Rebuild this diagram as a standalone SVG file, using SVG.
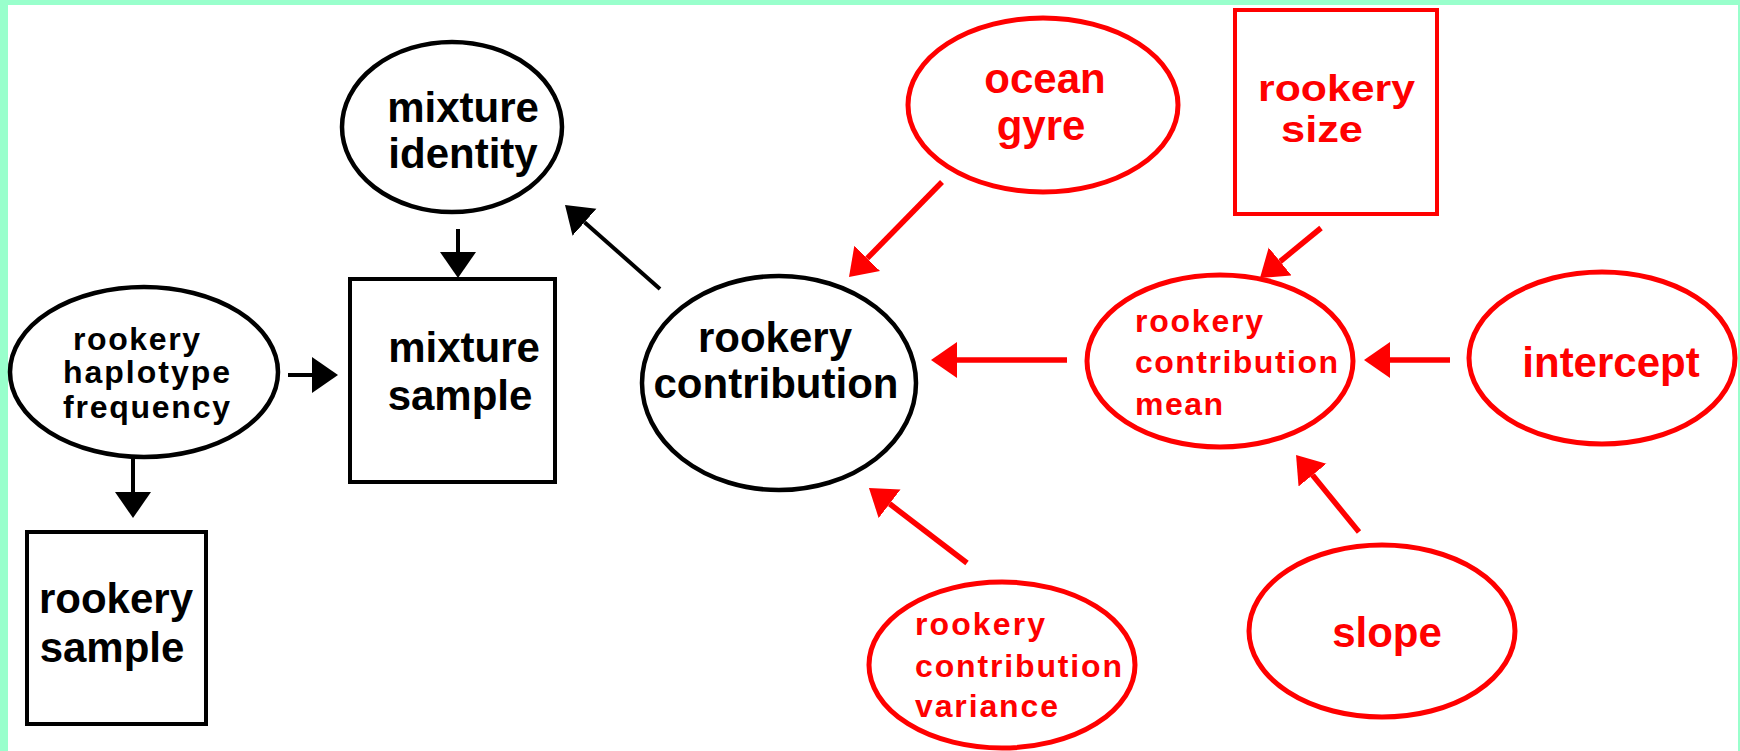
<svg xmlns="http://www.w3.org/2000/svg" width="1740" height="751" viewBox="0 0 1740 751">
<style>
.bk{fill:#fff;stroke:#000;stroke-width:4.5}
.rd{fill:#fff;stroke:#f00;stroke-width:5}
.bx{fill:#fff;stroke:#000;stroke-width:4}
.rbx{fill:#fff;stroke:#f00;stroke-width:4}
.tb{font-family:"Liberation Sans",Arial,sans-serif;font-weight:bold;font-size:42px;fill:#000;text-anchor:middle}
.tr{font-family:"Liberation Sans",Arial,sans-serif;font-weight:bold;font-size:42px;fill:#f00;text-anchor:middle}
.trs{font-family:"Liberation Sans",Arial,sans-serif;font-weight:bold;font-size:36px;fill:#f00}
.sb{font-family:"Liberation Sans",Arial,sans-serif;font-weight:bold;font-size:32px;fill:#000}
.sr{font-family:"Liberation Sans",Arial,sans-serif;font-weight:bold;font-size:32px;fill:#f00}
.lk{stroke:#000;stroke-width:4;fill:none}
.lr{stroke:#f00;stroke-width:5.5;fill:none}
</style>
<defs>
<marker id="ak" markerUnits="userSpaceOnUse" markerWidth="28" markerHeight="38" refX="0" refY="18" orient="auto"><path d="M0,0 L26,18 L0,36 Z" fill="#000"/></marker>
<marker id="ar" markerUnits="userSpaceOnUse" markerWidth="28" markerHeight="38" refX="0" refY="18" orient="auto"><path d="M0,0 L26,18 L0,36 Z" fill="#f00"/></marker>
</defs>
<rect x="0" y="0" width="1740" height="751" fill="#99ffcc"/>
<rect x="8" y="5" width="1730" height="746" fill="#fff"/>

<g id="connectors">
<line class="lk" x1="458" y1="229" x2="458" y2="252" marker-end="url(#ak)"/>
<line class="lk" x1="288" y1="375" x2="312" y2="375" marker-end="url(#ak)"/>
<line class="lk" x1="133" y1="458" x2="133" y2="492" marker-end="url(#ak)"/>
<line class="lk" x1="660" y1="289" x2="584.5" y2="222.2" marker-end="url(#ak)"/>
<line class="lr" x1="942" y1="182" x2="867.2" y2="258.4" marker-end="url(#ar)"/>
<line class="lr" x1="1067" y1="360" x2="957" y2="360" marker-end="url(#ar)"/>
<line class="lr" x1="1321" y1="228" x2="1280.1" y2="261.5" marker-end="url(#ar)"/>
<line class="lr" x1="1450" y1="360" x2="1390" y2="360" marker-end="url(#ar)"/>
<line class="lr" x1="1359" y1="532" x2="1312.5" y2="475.1" marker-end="url(#ar)"/>
<line class="lr" x1="967" y1="563" x2="889.6" y2="503.8" marker-end="url(#ar)"/>
</g>

<g id="mixture-identity">
<ellipse class="bk" cx="452" cy="127" rx="110" ry="85"/>
<text class="tb" x="463" y="122">mixture</text>
<text class="tb" x="463" y="168">identity</text>
</g>

<g id="mixture-sample">
<rect class="bx" x="350" y="279" width="205" height="203"/>
<text class="tb" x="464" y="362">mixture</text>
<text class="tb" x="460" y="410">sample</text>
</g>

<g id="rookery-haplotype-frequency">
<ellipse class="bk" cx="144" cy="372" rx="134" ry="85"/>
<text class="sb" x="73" y="350" textLength="127">rookery</text>
<text class="sb" x="63" y="383" textLength="167">haplotype</text>
<text class="sb" x="63" y="418" textLength="167">frequency</text>
</g>

<g id="rookery-sample">
<rect class="bx" x="27" y="532" width="179" height="192"/>
<text class="tb" x="116" y="613">rookery</text>
<text class="tb" x="112" y="662">sample</text>
</g>

<g id="rookery-contribution">
<ellipse class="bk" cx="779" cy="383" rx="137" ry="107"/>
<text class="tb" x="775" y="352">rookery</text>
<text class="tb" x="776" y="398">contribution</text>
</g>

<g id="ocean-gyre">
<ellipse class="rd" cx="1043" cy="105" rx="135" ry="87"/>
<text class="tr" x="1045" y="93">ocean</text>
<text class="tr" x="1041" y="140">gyre</text>
</g>

<g id="rookery-size">
<rect class="rbx" x="1235" y="10" width="202" height="204"/>
<text class="trs" x="1258" y="101" textLength="157" lengthAdjust="spacingAndGlyphs">rookery</text>
<text class="trs" x="1281" y="142" textLength="82" lengthAdjust="spacingAndGlyphs">size</text>
</g>

<g id="rookery-contribution-mean">
<ellipse class="rd" cx="1220" cy="361" rx="133" ry="86"/>
<text class="sr" x="1135" y="332" textLength="128">rookery</text>
<text class="sr" x="1135" y="373" textLength="203">contribution</text>
<text class="sr" x="1135" y="415" textLength="88">mean</text>
</g>

<g id="intercept">
<ellipse class="rd" cx="1602" cy="358" rx="133" ry="86"/>
<text class="tr" x="1611" y="377">intercept</text>
</g>

<g id="slope">
<ellipse class="rd" cx="1382" cy="631" rx="133" ry="86"/>
<text class="tr" x="1387" y="647">slope</text>
</g>

<g id="rookery-contribution-variance">
<ellipse class="rd" cx="1002" cy="665" rx="133" ry="83"/>
<text class="sr" x="915" y="635" textLength="130">rookery</text>
<text class="sr" x="915" y="677" textLength="207">contribution</text>
<text class="sr" x="915" y="717" textLength="143">variance</text>
</g>
</svg>
